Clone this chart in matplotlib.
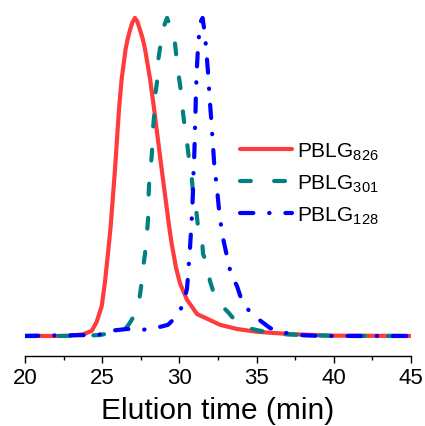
import matplotlib
matplotlib.use("Agg")
import matplotlib.pyplot as plt
from matplotlib.ticker import MultipleLocator

plt.rcParams['font.family'] = ['Liberation Sans', 'DejaVu Sans']
plt.rcParams['mathtext.fontset'] = 'custom'
plt.rcParams['mathtext.rm'] = 'Liberation Sans'

# ---- data (normalised intensity) ----
red_t = [20.00, 22.27, 22.91, 23.76, 24.32, 24.64, 24.97, 25.18, 25.38, 25.55, 25.83, 26.09,
         26.26, 26.52, 26.65, 26.80, 26.95, 27.12, 27.28, 27.45, 27.62, 27.77, 28.10, 28.36,
         28.85, 29.33, 29.50, 29.78, 30.04, 30.49, 31.14, 31.98, 32.63, 33.73, 35.03, 37.16,
         39.75, 45.00]
red_y = [0.000, 0.000, 0.001, 0.005, 0.016, 0.044, 0.094, 0.170, 0.262, 0.346, 0.525, 0.714,
         0.808, 0.903, 0.934, 0.962, 0.985, 1.000, 0.988, 0.962, 0.935, 0.903, 0.808, 0.714,
         0.525, 0.346, 0.290, 0.215, 0.165, 0.114, 0.069, 0.050, 0.035, 0.022, 0.013, 0.006,
         0.001, 0.000]

teal_t = [20.00, 23.56, 24.86, 25.50, 26.61, 26.99, 27.38, 27.51, 27.64, 27.77, 27.90, 27.97,
          28.00, 28.03, 28.16, 28.23, 28.29, 28.36, 28.42, 28.55, 28.61, 28.74, 28.94, 29.20,
          29.59, 29.72, 29.84, 29.97, 30.17, 30.23, 30.36, 30.49, 30.62, 30.75, 30.88, 31.08,
          31.20, 31.46, 31.53, 31.79, 31.98, 32.18, 32.76, 33.15, 33.80, 34.70, 35.54, 36.52,
          37.81, 40.40, 45.00]
teal_y = [0.000, 0.000, 0.003, 0.009, 0.028, 0.057, 0.107, 0.151, 0.211, 0.258, 0.321, 0.368,
          0.431, 0.472, 0.541, 0.582, 0.651, 0.692, 0.752, 0.799, 0.862, 0.903, 0.966, 1.000,
          0.950, 0.918, 0.862, 0.814, 0.745, 0.704, 0.651, 0.610, 0.557, 0.525, 0.453, 0.399,
          0.346, 0.311, 0.258, 0.226, 0.173, 0.142, 0.094, 0.075, 0.038, 0.022, 0.013, 0.006,
          0.003, 0.000, 0.000]

blue_t = [20.00, 22.27, 24.73, 25.50, 26.61, 27.45, 28.23, 29.26, 29.72, 30.04, 30.30, 30.49,
          30.56, 30.62, 30.69, 30.75, 30.82, 30.88, 30.91, 30.95, 30.98, 31.01, 31.04, 31.07,
          31.12, 31.20, 31.28, 31.40, 31.50, 31.66, 31.72, 31.80, 31.87, 31.95, 32.05, 32.11,
          32.18, 32.24, 32.31, 32.45, 32.53, 32.63, 32.76, 32.85, 33.02, 33.21, 33.41, 33.73,
          34.05, 34.31, 34.70, 35.35, 35.87, 36.52, 37.62, 39.11, 45.00]
blue_y = [0.000, 0.002, 0.003, 0.016, 0.022, 0.019, 0.022, 0.035, 0.057, 0.079, 0.110, 0.148,
          0.189, 0.233, 0.280, 0.327, 0.384, 0.456, 0.509, 0.550, 0.594, 0.651, 0.700, 0.760,
          0.830, 0.903, 0.950, 0.990, 1.000, 0.947, 0.909, 0.862, 0.818, 0.752, 0.689, 0.645,
          0.597, 0.550, 0.516, 0.456, 0.415, 0.368, 0.330, 0.302, 0.264, 0.220, 0.186, 0.157,
          0.110, 0.091, 0.069, 0.044, 0.025, 0.013, 0.003, 0.000, 0.000]

labels = ['PBLG$_{\\mathregular{826}}$', 'PBLG$_{\\mathregular{301}}$', 'PBLG$_{\\mathregular{128}}$']
x_ticks = [20, 25, 30, 35, 40, 45]

fig = plt.figure(figsize=(4.25, 4.27), dpi=100)
ax = fig.add_axes([25/425, 1-357/427, (411-25)/425, (357-10)/427])

lw = 3.0
ax.plot(red_t, red_y, color='#ff3b3b', lw=lw, solid_capstyle='round', solid_joinstyle='round',
        label=labels[0], zorder=2)
ax.plot(teal_t, teal_y, color='#008080', lw=lw, dashes=(2.6, 5.6), dash_capstyle='round',
        label=labels[1], zorder=3)
ax.plot(blue_t, blue_y, color='#0000ff', lw=lw, dashes=(3.2, 3.8, 0.1, 3.8), dash_capstyle='round',
        label=labels[2], zorder=4)

ax.set_xlim(20, 45)
ax.set_ylim(-0.063, 1.028)
ax.set_xticks(x_ticks)
ax.xaxis.set_minor_locator(MultipleLocator(2.5))
ax.set_yticks([])
for s in ['left', 'top', 'right']:
    ax.spines[s].set_visible(False)
ax.spines['bottom'].set_linewidth(1.0)
ax.tick_params(axis='x', which='major', length=5, width=1.0, labelsize=16, pad=3)
ax.tick_params(axis='x', which='minor', length=3, width=1.0)
ax.set_xlabel('Elution time (min)', fontsize=21.5, labelpad=6)

leg = ax.legend(loc='upper left', bbox_to_anchor=(0.535, 0.645), frameon=False, fontsize=15,
                handlelength=2.5, handletextpad=0.25, labelspacing=0.5, borderaxespad=0)

fig.savefig('out.png', dpi=100)
